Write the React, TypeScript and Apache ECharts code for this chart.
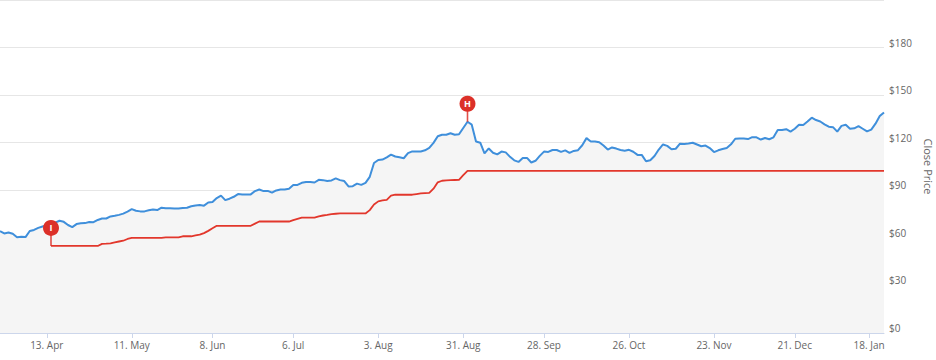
import React, { useEffect, useRef } from 'react';
import * as echarts from 'echarts';

// ---------- data ----------
const START_DATE = '2020-03-26';
const MARKET_HOLIDAYS = [
  '2020-04-10', '2020-05-25', '2020-07-03', '2020-09-07',
  '2020-11-26', '2020-12-25', '2021-01-01', '2021-01-18',
];
const TICK_DATES = [
  '2020-04-13', '2020-05-11', '2020-06-08', '2020-07-06', '2020-08-03', '2020-08-31',
  '2020-09-28', '2020-10-26', '2020-11-23', '2020-12-21', '2021-01-18',
];
const MONTHS = ['Jan', 'Feb', 'Mar', 'Apr', 'May', 'Jun', 'Jul', 'Aug', 'Sep', 'Oct', 'Nov', 'Dec'];

// daily close (one value per trading day)
const closePrice = [
  64.2, 62.8, 63.4, 62.6, 60.4, 60.7, 60.5, 64.3, 65.0, 66.3,
  67.2, 68.0, 69.1, 69.6, 70.8, 70.1, 68.1, 66.8, 68.7, 69.2,
  69.3, 70.0, 69.9, 71.3, 72.2, 72.2, 73.5, 73.9, 74.5, 75.3,
  76.6, 78.1, 77.1, 76.7, 76.7, 77.4, 77.9, 77.5, 79.0, 78.6,
  78.7, 78.5, 78.5, 78.8, 79.0, 79.9, 80.4, 80.7, 80.3, 82.3,
  82.6, 85.1, 86.6, 83.8, 84.7, 85.9, 87.6, 87.4, 87.4, 87.4,
  89.5, 90.5, 89.5, 89.6, 88.5, 89.9, 90.5, 90.5, 91.0, 93.3,
  93.4, 94.7, 95.2, 95.2, 94.9, 96.6, 96.4, 95.8, 96.2, 97.5,
  96.4, 95.8, 92.4, 92.6, 94.2, 93.4, 94.7, 98.5, 107.2, 109.1,
  109.4, 110.8, 112.5, 111.3, 110.8, 110.2, 113.4, 114.5, 114.5, 114.5,
  115.2, 116.7, 119.9, 124.1, 125.0, 125.0, 126.0, 125.0, 125.3, 129.3,
  133.2, 131.4, 120.8, 120.0, 113.3, 116.4, 113.7, 112.6, 114.4, 113.9,
  111.1, 108.9, 107.9, 110.3, 110.4, 107.5, 108.6, 111.7, 114.4, 114.2,
  115.4, 115.4, 114.2, 115.2, 113.6, 114.8, 115.3, 118.4, 122.9, 120.8,
  120.8, 120.3, 118.2, 115.7, 117.0, 116.3, 115.4, 115.0, 115.5, 114.3,
  112.3, 112.3, 108.3, 108.9, 111.6, 115.7, 118.9, 118.0, 115.9, 116.2,
  119.4, 119.2, 119.5, 120.0, 118.9, 117.8, 118.2, 116.6, 114.1, 115.2,
  116.0, 116.7, 119.0, 122.5, 122.7, 122.6, 122.3, 123.5, 123.4, 122.0,
  123.0, 122.2, 123.4, 128.0, 128.0, 128.5, 127.0, 128.8, 131.3, 131.2,
  133.4, 135.8, 134.3, 133.4, 131.6, 130.1, 129.8, 127.0, 130.6, 131.3,
  128.8, 129.1, 130.4, 128.8, 127.1, 128.3, 132.0, 136.8, 139.1,
];

// trailing stop line (null before entry)
const stopPrice = [
  null, null, null, null, null, null, null, null, null, null,
  null, null, 54.9, 54.9, 54.9, 54.9, 54.9, 54.9, 54.9, 54.9,
  54.9, 54.9, 54.9, 54.9, 56.2, 56.3, 56.5, 57.2, 57.7, 58.2,
  59.3, 60.0, 60.0, 60.0, 60.0, 60.0, 60.0, 60.0, 60.0, 60.3,
  60.3, 60.3, 60.3, 61.0, 61.0, 61.0, 61.5, 62.0, 63.0, 64.4,
  66.0, 67.6, 67.6, 67.6, 67.6, 67.6, 67.6, 67.6, 67.6, 67.6,
  69.0, 70.3, 70.3, 70.3, 70.3, 70.3, 70.3, 70.3, 70.3, 71.2,
  72.0, 72.8, 72.8, 72.8, 72.8, 73.6, 74.1, 74.5, 75.0, 75.2,
  75.4, 75.4, 75.4, 75.4, 75.4, 75.4, 75.4, 77.5, 81.0, 83.0,
  83.6, 84.0, 86.6, 87.2, 87.2, 87.2, 87.2, 87.2, 87.6, 88.0,
  88.2, 88.4, 91.0, 95.0, 96.0, 96.2, 96.4, 96.5, 96.6, 99.5,
  102.3, 102.3, 102.3, 102.3, 102.3, 102.3, 102.3, 102.3, 102.3, 102.3,
  102.3, 102.3, 102.3, 102.3, 102.3, 102.3, 102.3, 102.3, 102.3, 102.3,
  102.3, 102.3, 102.3, 102.3, 102.3, 102.3, 102.3, 102.3, 102.3, 102.3,
  102.3, 102.3, 102.3, 102.3, 102.3, 102.3, 102.3, 102.3, 102.3, 102.3,
  102.3, 102.3, 102.3, 102.3, 102.3, 102.3, 102.3, 102.3, 102.3, 102.3,
  102.3, 102.3, 102.3, 102.3, 102.3, 102.3, 102.3, 102.3, 102.3, 102.3,
  102.3, 102.3, 102.3, 102.3, 102.3, 102.3, 102.3, 102.3, 102.3, 102.3,
  102.3, 102.3, 102.3, 102.3, 102.3, 102.3, 102.3, 102.3, 102.3, 102.3,
  102.3, 102.3, 102.3, 102.3, 102.3, 102.3, 102.3, 102.3, 102.3, 102.3,
  102.3, 102.3, 102.3, 102.3, 102.3, 102.3, 102.3, 102.3, 102.3,
];

// flags: label, date, which series it sits on
const FLAG_LABELS = ['I', 'H'];
const FLAG_DATES = ['2020-04-14', '2020-09-01'];
const FLAG_ON = ['stop', 'close'];

const Y_MIN = 0;
const Y_MAX = 210;
const Y_INTERVAL = 30;

// ---------- helpers ----------
function buildTradingDates(n: number): string[] {
  const out: string[] = [];
  const d = new Date(START_DATE + 'T00:00:00Z');
  while (out.length < n) {
    const dow = d.getUTCDay();
    const iso = d.toISOString().slice(0, 10);
    if (dow !== 0 && dow !== 6 && MARKET_HOLIDAYS.indexOf(iso) < 0) out.push(iso);
    d.setUTCDate(d.getUTCDate() + 1);
  }
  return out;
}

function fmtDate(iso: string): string {
  const m = parseInt(iso.slice(5, 7), 10) - 1;
  const day = parseInt(iso.slice(8, 10), 10);
  return `${day}. ${MONTHS[m]}`;
}

const FONT = "'Open Sans', 'Noto Sans', sans-serif";
const FLAG_RED = '#dc3028';

export default function App() {
  const ref = useRef<HTMLDivElement>(null);

  useEffect(() => {
    if (!ref.current) return;
    const chart = echarts.init(ref.current, undefined, { renderer: 'svg' });

    const dates = buildTradingDates(closePrice.length);
    const tickPos: number[] = [];
    const tickLabel: string[] = [];
    TICK_DATES.forEach((t) => {
      const idx = dates.indexOf(t);
      let pos = idx;
      if (idx < 0) {
        const j = dates.findIndex((d) => d > t);
        pos = j - 0.5;
      }
      tickPos.push(pos);
      tickLabel.push(fmtDate(t));
    });

    const closeData = closePrice.map((v, i) => [i, v]);
    const stopData = stopPrice.map((v, i) => [i, v]);
    const flagData = FLAG_LABELS.map((lab, k) => {
      const i = dates.indexOf(FLAG_DATES[k]);
      const v = FLAG_ON[k] === 'stop' ? stopPrice[i] : closePrice[i];
      return { name: lab, value: [i, v] };
    });

    chart.setOption({
      animation: false,
      backgroundColor: '#ffffff',
      textStyle: { fontFamily: FONT },
      grid: { left: 0, right: 52, top: 0, bottom: 27, containLabel: false, outerBoundsMode: 'none' },
      xAxis: {
        type: 'value',
        min: 0,
        max: closePrice.length - 1,
        axisLine: { show: true, onZero: false, lineStyle: { color: '#ccd6eb', width: 1 } },
        axisTick: { show: true, customValues: tickPos, length: 5, lineStyle: { color: '#ccd6eb' } },
        axisLabel: {
          customValues: tickPos,
          formatter: (v: number) => {
            const k = tickPos.findIndex((p) => Math.abs(p - v) < 0.01);
            return k >= 0 ? tickLabel[k] : '';
          },
          color: '#666666',
          fontSize: 10,
          fontFamily: FONT,
          margin: 7,
        },
        splitLine: { show: false },
      },
      yAxis: {
        type: 'value',
        position: 'right',
        min: Y_MIN,
        max: Y_MAX,
        interval: Y_INTERVAL,
        name: 'Close Price',
        nameLocation: 'middle',
        nameRotate: -90,
        nameGap: 28,
        nameTextStyle: { color: '#666666', fontSize: 11, fontFamily: FONT },
        axisLine: { show: false },
        axisTick: { show: false },
        axisLabel: {
          formatter: (v: number) => (v >= Y_MAX ? '' : '$' + v),
          color: '#666666',
          fontSize: 10,
          fontFamily: FONT,
          margin: 5,
          verticalAlign: 'bottom',
          lineHeight: 10,
        },
        splitLine: { show: true, lineStyle: { color: '#e6e6e6', width: 1 } },
      },
      series: [
        {
          name: 'Close',
          type: 'line',
          data: closeData,
          showSymbol: false,
          symbol: 'none',
          lineStyle: { color: '#3f8fdb', width: 2 },
          areaStyle: { color: '#f5f5f5', opacity: 1, origin: 'start' },
          z: 2,
        },
        {
          name: 'Stop',
          type: 'line',
          data: stopData,
          showSymbol: false,
          symbol: 'none',
          connectNulls: false,
          lineStyle: { color: '#e2372c', width: 1.8 },
          z: 3,
        },
        {
          name: 'Flag stem',
          type: 'scatter',
          data: flagData,
          symbol: 'rect',
          symbolSize: [1.6, 12],
          symbolOffset: [0, -6],
          itemStyle: { color: FLAG_RED, opacity: 0.85 },
          silent: true,
          z: 4,
        },
        {
          name: 'Flags',
          type: 'scatter',
          data: flagData,
          symbol: 'circle',
          symbolSize: 16,
          symbolOffset: [0, -18],
          itemStyle: { color: FLAG_RED, opacity: 1 },
          label: {
            show: true,
            formatter: '{b}',
            position: 'inside',
            color: '#ffffff',
            fontWeight: 'bold',
            fontSize: 9,
            fontFamily: FONT,
          },
          silent: true,
          z: 5,
        },
      ],
    });

    return () => chart.dispose();
  }, []);

  return (
    <div
      ref={ref}
      style={{ position: 'fixed', left: 0, top: 0, width: 936, height: 360, background: '#fff' }}
    />
  );
}
